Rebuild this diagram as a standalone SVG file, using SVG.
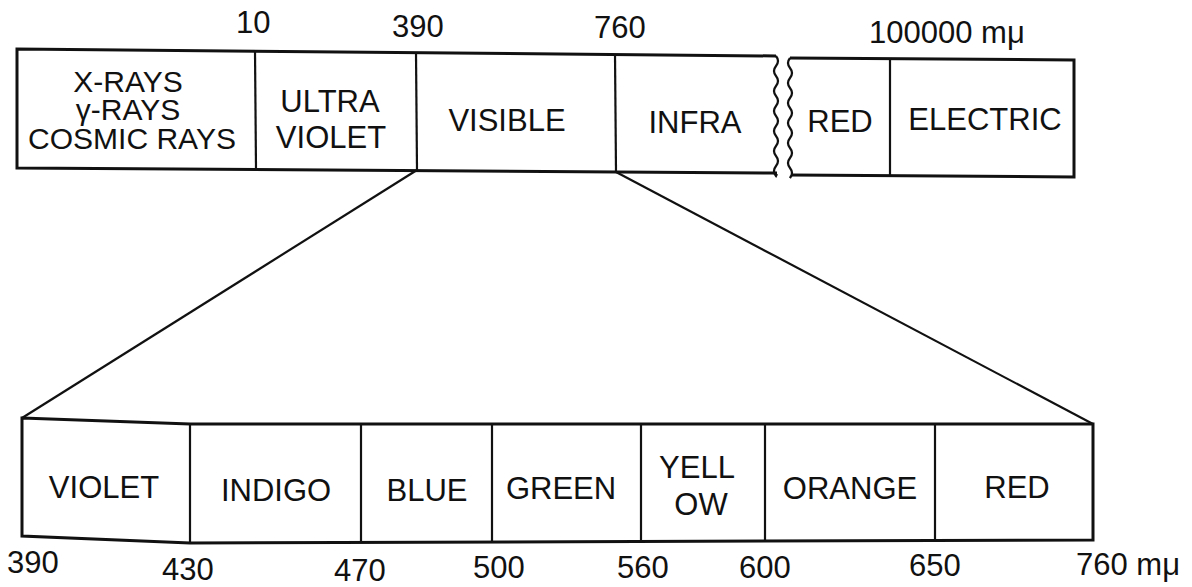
<svg xmlns="http://www.w3.org/2000/svg" width="1192" height="587" viewBox="0 0 1192 587">
<style>
.b{fill:none;stroke:#111;stroke-width:3;stroke-linejoin:miter}
.d{fill:none;stroke:#111;stroke-width:2.2}
.t{font-family:"Liberation Sans",Arial,sans-serif;font-size:31px;fill:#111;text-anchor:middle}
.s{font-size:30px}
.n{font-family:"Liberation Sans",Arial,sans-serif;font-size:31px;fill:#111}
</style>
<rect width="1192" height="587" fill="#fff"/>
<g id="scale-top">
<text class="n" x="236" y="33">10</text>
<text class="n" x="392" y="37">390</text>
<text class="n" x="594" y="38">760</text>
<text class="n" x="869" y="43">100000 mμ</text>
</g>
<g id="top-left-bar">
<path class="b" d="M776,56 L17,49 L17,168 L777,173"/>
<path class="d" d="M776,56 q4,5 0,10 q-4,5 0,10 q4,5 0,10 q-4,5 0,10 q4,5 0,10 q-4,5 0,10 q4,5 0,10 q-4,5 0,10 q4,5 0,10 q-4,5 0,10 q4,5 0,10 q-4,5 0,10 l1,-2"/>
<line class="d" x1="255" y1="51" x2="256" y2="169"/>
<line class="d" x1="416" y1="53" x2="417" y2="170"/>
<line class="d" x1="615" y1="54" x2="616" y2="172"/>
</g>
<g id="top-right-bar">
<path class="b" d="M790,58 L1074,60 L1074,177 L791,175"/>
<path class="d" d="M790,58 q-4,5 0,10 q4,5 0,10 q-4,5 0,10 q4,5 0,10 q-4,5 0,10 q4,5 0,10 q-4,5 0,10 q4,5 0,10 q-4,5 0,10 q4,5 0,10 q-4,5 0,10 q4,5 0,10 l1,-2"/>
<line class="d" x1="890" y1="59" x2="890" y2="176"/>
</g>
<g id="node-xrays">
<text class="t s" x="128" y="92">X-RAYS</text>
<text class="t s" x="128" y="120">γ-RAYS</text>
<text class="t s" x="132" y="149">COSMIC RAYS</text>
</g>
<g id="node-uv">
<text class="t" x="330" y="112">ULTRA</text>
<text class="t" x="331" y="148">VIOLET</text>
</g>
<g id="node-visible"><text class="t" x="507" y="131">VISIBLE</text></g>
<g id="node-infra"><text class="t" x="695" y="133">INFRA</text></g>
<g id="node-red-top"><text class="t" x="840" y="132">RED</text></g>
<g id="node-electric"><text class="t" x="985" y="130">ELECTRIC</text></g>
<g id="connectors">
<line class="d" x1="417" y1="170" x2="22" y2="418"/>
<line class="d" x1="616" y1="172" x2="1093" y2="424"/>
</g>
<g id="bottom-bar">
<path class="b" d="M22,418 L190,424 L1093,424 L1093,540 L190,543 L22,536 Z"/>
<line class="d" x1="190" y1="424" x2="190" y2="543"/>
<line class="d" x1="361" y1="424" x2="361" y2="543"/>
<line class="d" x1="492" y1="424" x2="492" y2="542"/>
<line class="d" x1="641" y1="424" x2="641" y2="542"/>
<line class="d" x1="765" y1="424" x2="765" y2="541"/>
<line class="d" x1="935" y1="424" x2="935" y2="541"/>
</g>
<g id="node-violet"><text class="t" x="104" y="498">VIOLET</text></g>
<g id="node-indigo"><text class="t" x="276" y="501">INDIGO</text></g>
<g id="node-blue"><text class="t" x="427" y="501">BLUE</text></g>
<g id="node-green"><text class="t" x="561" y="499">GREEN</text></g>
<g id="node-yellow">
<text class="t" x="697" y="478">YELL</text>
<text class="t" x="701" y="515">OW</text>
</g>
<g id="node-orange"><text class="t" x="850" y="499">ORANGE</text></g>
<g id="node-red"><text class="t" x="1017" y="498">RED</text></g>
<g id="scale-bottom">
<text class="n" x="7" y="573">390</text>
<text class="n" x="162" y="580">430</text>
<text class="n" x="334" y="581">470</text>
<text class="n" x="473" y="578">500</text>
<text class="n" x="617" y="578">560</text>
<text class="n" x="739" y="578">600</text>
<text class="n" x="909" y="576">650</text>
<text class="n" x="1076" y="575">760 mμ</text>
</g>
</svg>
